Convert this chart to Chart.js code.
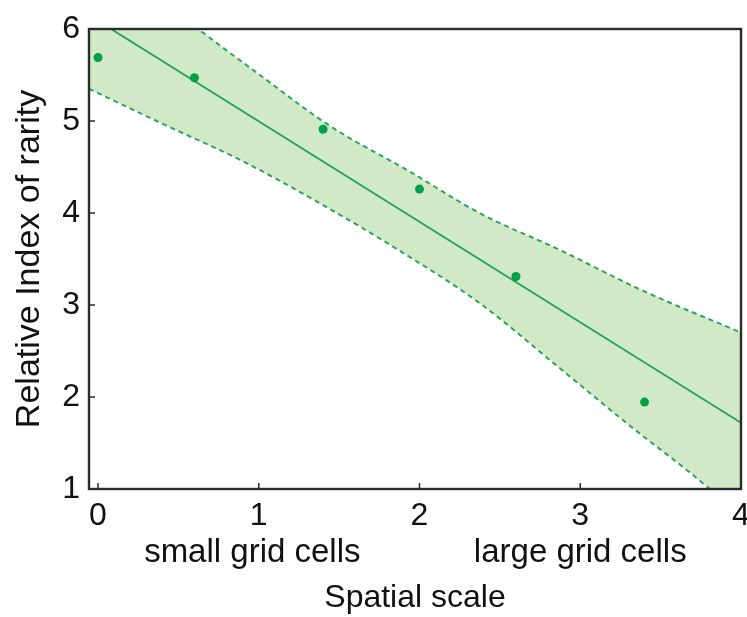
<!DOCTYPE html>
<html>
<head>
<meta charset="utf-8">
<script src="https://cdn.jsdelivr.net/npm/chart.js@4"></script>
<style>
  html, body { margin: 0; padding: 0; background: #fff; }
  #wrap { width: 747px; height: 617px; }
</style>
</head>
<body>
<div id="wrap"><canvas id="c" width="747" height="617"></canvas></div>
<script>
// Observed points
const obsX = [0, 0.6, 1.4, 2.0, 2.6, 3.4];
const obsY = [5.69, 5.47, 4.91, 4.26, 3.31, 1.945];

// Fitted line
const fitX = [-0.056, 4.0];
const fitY = [6.15, 1.72];

// Confidence band, upper edge
const upperX = [-0.056, 0.3, 0.624, 1.007, 1.443, 1.94, 2.376, 2.873, 3.371, 4.0];
const upperY = [6.95, 6.45, 6.0, 5.5, 4.946, 4.449, 3.997, 3.598, 3.17, 2.70];

// Confidence band, lower edge
const lowerX = [-0.056, 0.417, 0.904, 1.381, 1.867, 2.376, 2.873, 3.3, 3.785, 4.0];
const lowerY = [5.35, 4.957, 4.56, 4.105, 3.60, 3.018, 2.312, 1.70, 1.03, 0.68];

// Axes
const xTicks = [0, 1, 2, 3, 4];
const yTicks = [1, 2, 3, 4, 5, 6];
const xTitle = 'Spatial scale';
const yTitle = 'Relative Index of rarity';
const scaleNotes = ['small grid cells', 'large grid cells'];
const scaleNoteAt = [0.96, 3.0];

const pts = (xs, ys) => xs.map((x, i) => ({ x: x, y: ys[i] }));

const FONT = "'Liberation Sans', Arial, sans-serif";
const GREEN_DOT = '#00a04a';
const GREEN_LINE = '#1fa453';
const GREEN_DASH = '#2aa75a';
const BAND_FILL = '#d1e9c6';
const AXIS = '#2b2b2b';

const framePlugin = {
  id: 'frame',
  afterDraw(chart) {
    const { ctx, chartArea: a, scales } = chart;
    ctx.save();
    ctx.strokeStyle = AXIS;
    ctx.lineWidth = 1.5;
    const tl = 6;
    ctx.beginPath();
    xTicks.forEach(v => {
      const px = scales.x.getPixelForValue(v);
      ctx.moveTo(px, a.bottom);
      ctx.lineTo(px, a.bottom - tl);
    });
    yTicks.forEach(v => {
      const py = scales.y.getPixelForValue(v);
      ctx.moveTo(a.left, py);
      ctx.lineTo(a.left + tl, py);
    });
    ctx.stroke();
    ctx.lineWidth = 2.4;
    ctx.strokeRect(a.left, a.top, a.right - a.left, a.bottom - a.top);
    // scale notes under the x axis
    ctx.fillStyle = '#111';
    ctx.font = '33px ' + FONT;
    ctx.textAlign = 'center';
    ctx.textBaseline = 'middle';
    scaleNotes.forEach((t, i) => {
      ctx.fillText(t, scales.x.getPixelForValue(scaleNoteAt[i]), 553);
    });
    ctx.restore();
  }
};

new Chart(document.getElementById('c'), {
  type: 'line',
  data: {
    datasets: [
      {
        label: 'upper',
        data: pts(upperX, upperY),
        borderColor: GREEN_DASH,
        borderWidth: 2,
        borderDash: [5, 4],
        backgroundColor: BAND_FILL,
        fill: '+1',
        pointRadius: 0,
        cubicInterpolationMode: 'monotone',
        order: 3
      },
      {
        label: 'lower',
        data: pts(lowerX, lowerY),
        borderColor: GREEN_DASH,
        borderWidth: 2,
        borderDash: [5, 4],
        fill: false,
        pointRadius: 0,
        cubicInterpolationMode: 'monotone',
        order: 3
      },
      {
        label: 'fit',
        data: pts(fitX, fitY),
        borderColor: GREEN_LINE,
        borderWidth: 1.8,
        fill: false,
        pointRadius: 0,
        order: 2
      },
      {
        label: 'observed',
        data: pts(obsX, obsY),
        showLine: false,
        pointRadius: 4.5,
        pointBackgroundColor: GREEN_DOT,
        pointBorderColor: GREEN_DOT,
        pointBorderWidth: 0,
        order: 1
      }
    ]
  },
  options: {
    responsive: false,
    animation: false,
    devicePixelRatio: 1,
    layout: { padding: { top: 29, right: 6, left: 0, bottom: 0 } },
    plugins: {
      legend: { display: false },
      tooltip: { enabled: false },
      filler: { drawTime: 'beforeDatasetsDraw' }
    },
    scales: {
      x: {
        type: 'linear',
        min: -0.056,
        max: 4,
        afterBuildTicks: s => { s.ticks = xTicks.map(v => ({ value: v })); },
        afterFit: s => { s.height = 128; s.paddingLeft = 0; s.paddingRight = 0; },
        grid: { display: false, drawTicks: false },
        border: { display: false },
        ticks: { color: '#111', font: { family: FONT, size: 32 }, padding: 8 },
        title: { display: true, text: xTitle, color: '#111', font: { family: FONT, size: 32 }, padding: { top: 0, bottom: 0 } }
      },
      y: {
        type: 'linear',
        min: 1,
        max: 6,
        afterBuildTicks: s => { s.ticks = yTicks.map(v => ({ value: v })); },
        afterFit: s => { s.width = 89; s.paddingTop = 0; s.paddingBottom = 0; },
        grid: { display: false, drawTicks: false },
        border: { display: false },
        ticks: { color: '#111', font: { family: FONT, size: 32 }, padding: 9 },
        title: { display: true, text: yTitle, color: '#111', font: { family: FONT, size: 34 }, padding: { top: 9, bottom: 0 } }
      }
    }
  },
  plugins: [framePlugin]
});
</script>
</body>
</html>
